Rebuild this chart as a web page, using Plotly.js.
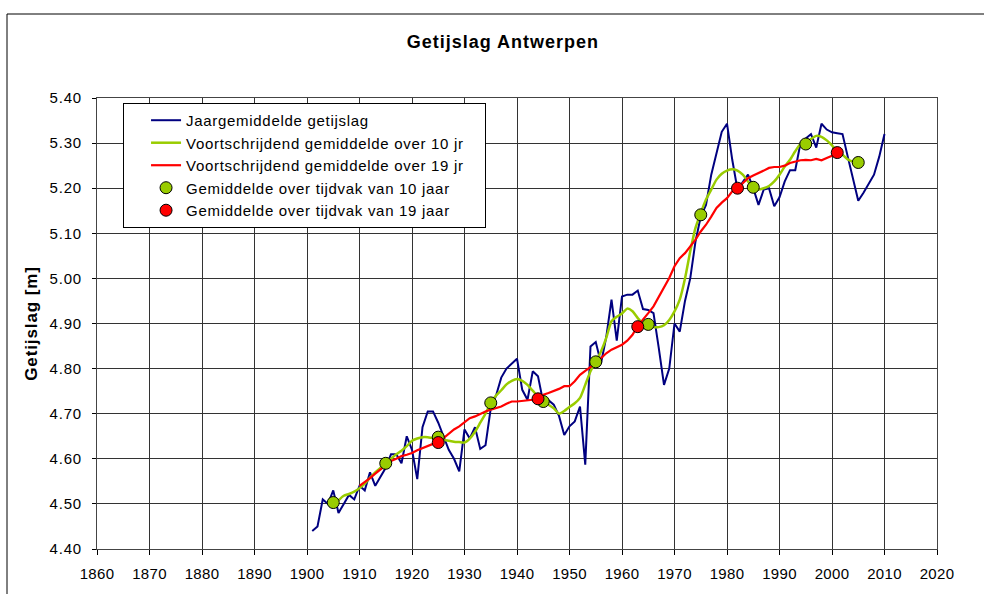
<!DOCTYPE html>
<html><head><meta charset="utf-8">
<script src="https://cdn.plot.ly/plotly-3.0.1.min.js"></script>
<style>
html,body{margin:0;padding:0;background:#fff}
#chart{width:984px;height:594px}
#chart .legendtext{letter-spacing:0.7px}
#chart .gtitle{letter-spacing:1px}
#chart .ytitle{letter-spacing:0.9px}
#chart .ytick text{letter-spacing:0.8px}
#chart .xtick text{letter-spacing:0.3px}
</style>
</head><body><div id="chart"></div>
<script>
// Jaargemiddelde getijslag (annual mean tidal range), 1901-2010
const annualStart = 1901;
const annualTidalRange = [
  4.44,4.45,4.51,4.50,4.53,4.48,4.50,4.52,4.51,4.54,
  4.53,4.57,4.54,4.56,4.58,4.61,4.61,4.59,4.65,4.62,
  4.555,4.67,4.705,4.705,4.68,4.65,4.62,4.60,4.572,4.665,
  4.645,4.67,4.622,4.63,4.712,4.74,4.78,4.80,4.81,4.822,
  4.753,4.731,4.794,4.783,4.725,4.73,4.72,4.695,4.653,4.672,
  4.683,4.716,4.587,4.849,4.859,4.812,4.87,4.953,4.862,4.96,
  4.964,4.964,4.973,4.932,4.93,4.923,4.846,4.764,4.80,4.90,
  4.882,4.95,5.00,5.082,5.137,5.163,5.23,5.28,5.325,5.343,
  5.263,5.197,5.215,5.23,5.20,5.163,5.197,5.20,5.16,5.18,
  5.215,5.24,5.24,5.30,5.31,5.32,5.29,5.343,5.33,5.324,
  5.322,5.32,5.27,5.22,5.172,5.19,5.21,5.23,5.27,5.32
];
// Voortschrijdend gemiddelde over 10 jr, 1906-2005
const ma10Start = 1906;
const movingAvg10 = [
  4.508,4.518,4.522,4.527,4.535,4.545,4.558,4.570,4.580,4.590,
  4.600,4.610,4.618,4.628,4.640,4.645,4.648,4.648,4.646,4.645,
  4.642,4.640,4.638,4.637,4.636,4.645,4.660,4.680,4.700,4.724,
  4.740,4.752,4.765,4.773,4.777,4.773,4.764,4.751,4.738,4.727,
  4.720,4.712,4.700,4.706,4.715,4.723,4.735,4.764,4.794,4.815,
  4.838,4.868,4.905,4.915,4.922,4.933,4.927,4.912,4.900,4.896,
  4.892,4.892,4.896,4.908,4.927,4.953,5.000,5.060,5.112,5.145,
  5.175,5.197,5.219,5.232,5.239,5.242,5.239,5.230,5.215,5.202,
  5.197,5.200,5.205,5.215,5.230,5.248,5.263,5.282,5.298,5.300,
  5.309,5.316,5.314,5.306,5.295,5.281,5.274,5.264,5.259,5.257
];
// Voortschrijdend gemiddelde over 19 jr, 1910-2001
const ma19Start = 1910;
const movingAvg19 = [
  4.540,4.548,4.557,4.567,4.577,4.587,4.595,4.600,4.606,4.609,
  4.613,4.619,4.624,4.628,4.633,4.636,4.646,4.655,4.665,4.672,
  4.682,4.690,4.694,4.700,4.705,4.709,4.713,4.716,4.722,4.727,
  4.727,4.728,4.729,4.731,4.736,4.742,4.746,4.750,4.755,4.761,
  4.761,4.772,4.786,4.795,4.803,4.812,4.823,4.834,4.842,4.847,
  4.853,4.862,4.875,4.895,4.908,4.923,4.938,4.958,4.979,5.001,
  5.027,5.045,5.056,5.071,5.086,5.104,5.119,5.137,5.156,5.168,
  5.178,5.193,5.200,5.211,5.222,5.228,5.233,5.239,5.245,5.247,
  5.247,5.250,5.256,5.259,5.262,5.263,5.262,5.265,5.262,5.267,
  5.272,5.279
];
// Gemiddelde over tijdvak van 10 jaar
const period10Years = [1905,1915,1925,1935,1945,1955,1965,1975,1985,1995,2005];
const period10Means = [4.503,4.590,4.648,4.724,4.727,4.815,4.898,5.141,5.202,5.298,5.257];
// Gemiddelde over tijdvak van 19 jaar
const period19Years = [1925,1944,1963,1982,2001];
const period19Means = [4.636,4.733,4.893,5.200,5.279];

const seriesNames = [
  'Jaargemiddelde getijslag',
  'Voortschrijdend gemiddelde over 10 jr',
  'Voortschrijdend gemiddelde over 19 jr',
  'Gemiddelde over tijdvak van 10 jaar',
  'Gemiddelde over tijdvak van 19 jaar'
];
const xTicks = [1860,1870,1880,1890,1900,1910,1920,1930,1940,1950,1960,1970,1980,1990,2000,2010,2020];
const yTicks = [4.4,4.5,4.6,4.7,4.8,4.9,5.0,5.1,5.2,5.3,5.4];

function yearsFrom(start, arr){ return arr.map((_, i) => start + i); }

const FONT = '"Liberation Sans", Arial, sans-serif';
const LEGEND_BOX_WIDTH = 362;

const traces = [
  {x: yearsFrom(annualStart, annualTidalRange), y: annualTidalRange, name: seriesNames[0],
   mode: 'lines', line: {color: '#000080', width: 2}},
  {x: yearsFrom(ma10Start, movingAvg10), y: movingAvg10, name: seriesNames[1],
   mode: 'lines', line: {color: '#99CC00', width: 2.5, shape: 'spline', smoothing: 0.6}},
  {x: yearsFrom(ma19Start, movingAvg19), y: movingAvg19, name: seriesNames[2],
   mode: 'lines', line: {color: '#FF0000', width: 2.2}},
  {x: period10Years, y: period10Means, name: seriesNames[3], mode: 'markers',
   marker: {color: '#99CC00', size: 12, line: {color: '#000', width: 1}}},
  {x: period19Years, y: period19Means, name: seriesNames[4], mode: 'markers',
   marker: {color: '#FF0000', size: 12, line: {color: '#000', width: 1}}}
];

const layout = {
  width: 984, height: 594,
  paper_bgcolor: '#fff', plot_bgcolor: '#fff',
  margin: {l: 97, r: 47, t: 98, b: 45, pad: 0},
  font: {family: FONT, color: '#000', size: 15},
  title: {text: 'Getijslag Antwerpen', font: {family: FONT, size: 18, weight: 'bold', color: '#000'},
          x: 0.511, xref: 'container', xanchor: 'center', y: 1 - 42/594, yref: 'container', yanchor: 'middle'},
  showlegend: true,
  legend: {x: 0.031, y: 0.989, xanchor: 'left', yanchor: 'top', bgcolor: '#fff',
           bordercolor: '#000', borderwidth: 1, font: {family: FONT, size: 15, color: '#000'},
           indentation: 22, traceorder: 'normal'},
  xaxis: {range: [1860, 2020], tickvals: xTicks, ticktext: xTicks.map(String), showgrid: true,
          gridcolor: '#333', gridwidth: 1, zeroline: false, showline: true, linecolor: '#444',
          linewidth: 1, mirror: true, ticks: 'outside', ticklen: 5, tickcolor: '#000',
          ticklabelstandoff: 6,
          tickfont: {family: FONT, size: 15, color: '#000'}, fixedrange: true},
  yaxis: {range: [4.4, 5.4], tickvals: yTicks, tickformat: '.2f', showgrid: true,
          gridcolor: '#333', gridwidth: 1, zeroline: false, showline: true, linecolor: '#444',
          linewidth: 1, mirror: true, ticks: 'outside', ticklen: 4, tickcolor: '#000',
          ticklabelstandoff: 7,
          tickfont: {family: FONT, size: 15, color: '#000'}, fixedrange: true,
          title: {text: 'Getijslag [m]', font: {family: FONT, size: 17, weight: 'bold', color: '#000'}, standoff: 10}},
  shapes: [
    {type: 'rect', xref: 'paper', yref: 'paper',
     x0: (7 - 97) / 840, x1: (1000 - 97) / 840, y0: (549 - 620) / 451, y1: (549 - 14) / 451,
     line: {color: '#000', width: 1}, fillcolor: 'rgba(0,0,0,0)', layer: 'below'}
  ]
};

const gd = document.getElementById('chart');
function widenLegend() {
  // the legend text uses CSS letter-spacing, which the legend's own sizing does not see
  gd.querySelectorAll('.legend rect.bg').forEach(r => r.setAttribute('width', LEGEND_BOX_WIDTH));
  document.querySelectorAll('clipPath[id^="legend"] rect').forEach(r => r.setAttribute('width', LEGEND_BOX_WIDTH));
}
Plotly.newPlot(gd, traces, layout, {staticPlot: true, displayModeBar: false}).then(widenLegend);
</script>
</body></html>
